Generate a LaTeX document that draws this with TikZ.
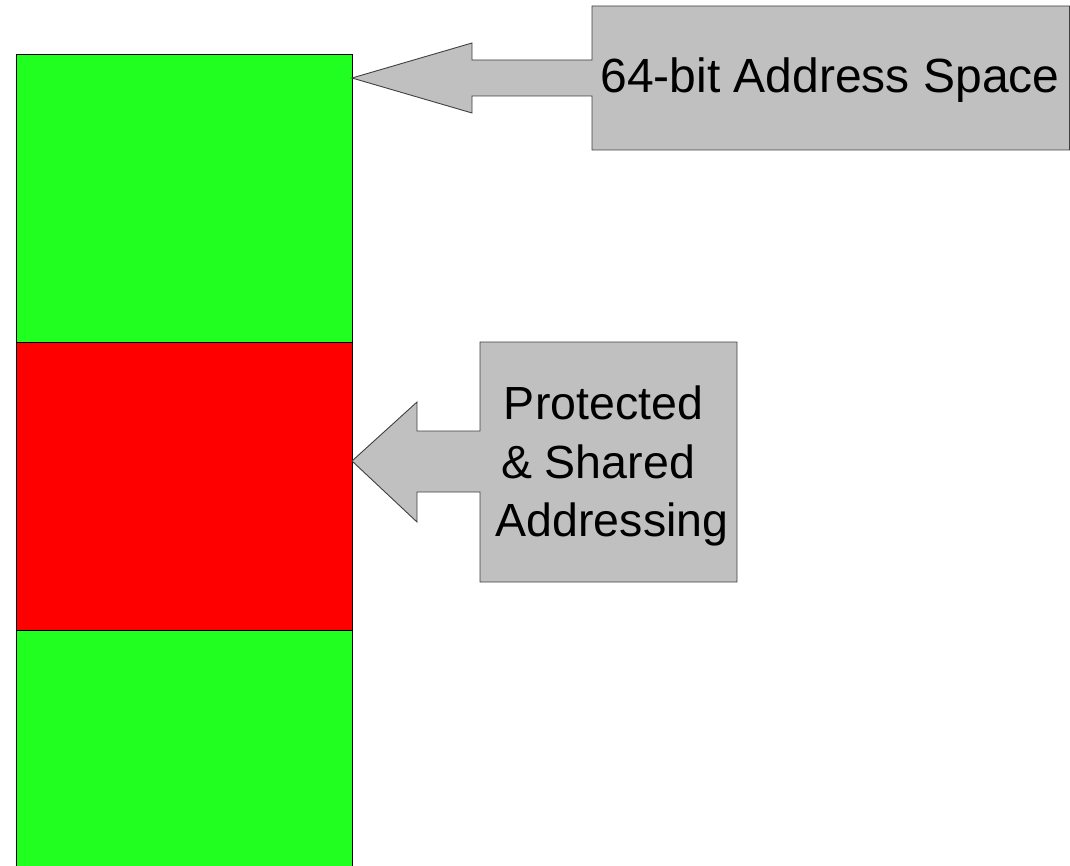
\documentclass[tikz,border=0pt]{standalone}
\usepackage{fontspec}
\setmainfont{Liberation Sans}
\definecolor{segGreen}{HTML}{21FF21}
\definecolor{segRed}{HTML}{FF0000}
\definecolor{calloutGray}{HTML}{C0C0C0}
\begin{document}
\begin{tikzpicture}[x=1pt,y=-1pt,
  seg/.style={draw=black, line width=1pt, minimum width=336pt, minimum height=288pt, anchor=north west, inner sep=0pt},
  callout/.style={draw=black!75, fill=calloutGray, line width=0.9pt, line join=miter},
  label/.style={inner sep=0pt, align=center}]
\useasboundingbox (0,0) rectangle (1070,866);
\begin{scope}
\clip (0,0) rectangle (1070,866);
\node[seg, fill=segGreen] (top) at (16,54) {};
\node[seg, fill=segRed] (mid) at (16,342) {};
\node[seg, fill=segGreen] (bot) at (16,630) {};
\end{scope}
% callout 1
\draw[callout] (352,78) -- (472,43) -- (472,60) -- (592,60) -- (592,6) -- (1069.5,6)
  -- (1069.5,150) -- (592,150) -- (592,96) -- (472,96) -- (472,113) -- cycle;
\node[label, font=\fontsize{48}{58.5}\selectfont, anchor=base] (lab1) at (830,93) {64-bit Address Space};
% callout 2
\draw[callout] (352,461) -- (417,402) -- (417,431) -- (480,431) -- (480,342) -- (737,342)
  -- (737,582) -- (480,582) -- (480,492) -- (417,492) -- (417,522) -- cycle;
\node[label, font=\fontsize{46.5}{58.5}\selectfont, anchor=center] (lab2) at (612,466)
  {Protected\kern17pt\null\\\&~Shared\kern28pt\null\\Addressing};
\end{tikzpicture}
\end{document}
